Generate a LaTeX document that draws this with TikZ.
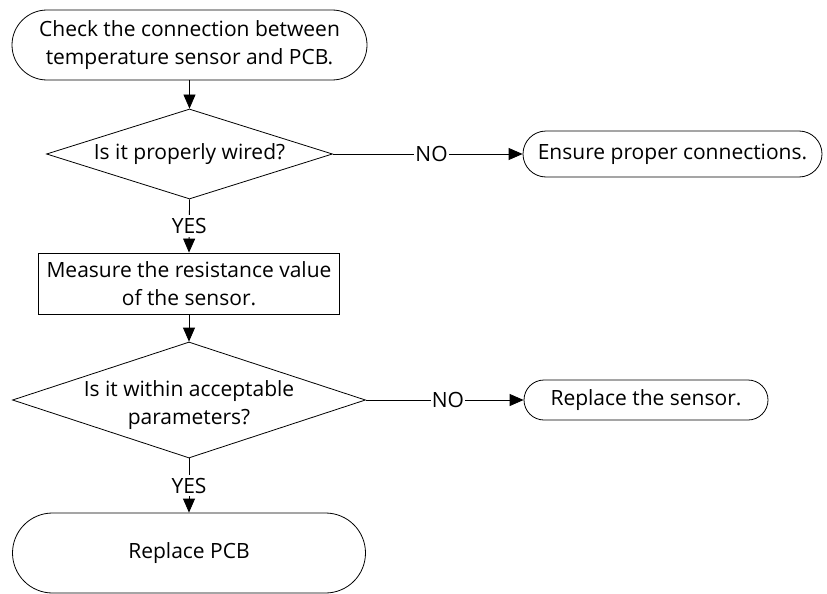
\documentclass[tikz,border=0pt]{standalone}
\usepackage{fontspec}
\setmainfont{Open Sans}
\usetikzlibrary{shapes.geometric, arrows.meta}
\begin{document}
\begin{tikzpicture}[x=1pt, y=-1pt,
  font=\fontsize{21}{28}\selectfont,
  line width=0.8pt,
  term/.style={draw, rectangle, align=center, inner sep=0pt},
  proc/.style={draw, rectangle, align=center, inner sep=0pt},
  dec/.style={draw, diamond, inner sep=0pt},
  arr/.style={-{Triangle[length=14pt,width=12pt]}},
  lab/.style={fill=white, inner sep=1pt}]
\useasboundingbox (0,0) rectangle (827,594);

\node[term, minimum width=355pt, minimum height=70pt, rounded corners=35pt] (start) at (189.5,45)
  {Check the connection between\\temperature sensor and PCB.};

\node[dec, minimum width=286pt, minimum height=90pt] (d1) at (189.5,154) {};
\node (d1t) at (d1.center) {Is it properly wired?};

\node[term, minimum width=299pt, minimum height=46pt, rounded corners=23pt] (ensure) at (672.5,154)
  {Ensure proper connections.};

\node[proc, minimum width=301pt, minimum height=61pt] (measure) at (189,283.5)
  {Measure the resistance value\\of the sensor.};

\node[dec, minimum width=353pt, minimum height=116pt] (d2) at (189,400) {};
\node[align=center] (d2t) at ([yshift=-5pt]d2.center) {Is it within acceptable\\parameters?};

\node[term, minimum width=244pt, minimum height=40pt, rounded corners=20pt] (sensor) at (646,400)
  {Replace the sensor.};

\node[term, minimum width=353pt, minimum height=80pt, rounded corners=40pt] (pcb) at (189,553)
  {Replace PCB};

\draw[arr] (start) -- (d1);
\draw[arr] (d1.east) -- node[lab, pos=0.52] {NO} (ensure.west);
\draw[arr] (d1.south) -- node[lab, inner sep=3pt] {YES} (measure.north);
\draw[arr] (measure) -- (d2);
\draw[arr] (d2.east) -- node[lab, pos=0.52] {NO} (sensor.west);
\draw[arr] (d2.south) -- node[lab, inner sep=3pt] {YES} (pcb.north);
\end{tikzpicture}
\end{document}
